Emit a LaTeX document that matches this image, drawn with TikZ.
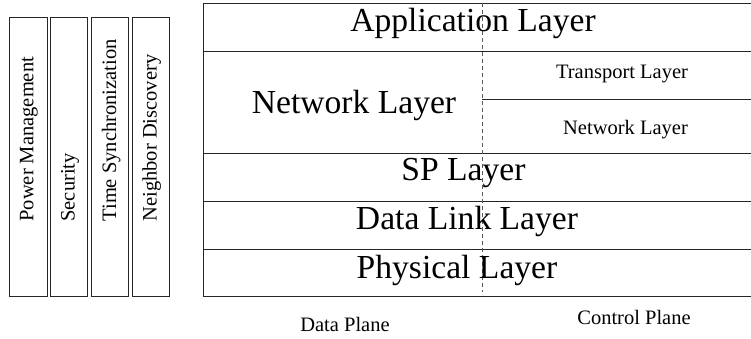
\documentclass[tikz,border=0pt]{standalone}
\usepackage{fontspec}
\setmainfont{Liberation Serif}
\begin{document}
\begin{tikzpicture}[x=1pt,y=-1pt,
  box/.style={draw=black!85,line width=1pt},
  big/.style={font=\fontsize{33.6}{36}\selectfont,inner sep=0pt,anchor=base},
  small/.style={font=\fontsize{20.5}{23}\selectfont,inner sep=0pt,anchor=base},
  side/.style={font=\fontsize{20.5}{23}\selectfont,inner sep=0pt,rotate=90,anchor=base west},
  planeline/.style={draw=black!65,line width=1pt,dash pattern=on 4pt off 3pt}]
\useasboundingbox (0,0) rectangle (751,338);
\clip (0,0) rectangle (751,338);
% side boxes
\draw[box] (9,17) rectangle (47,296);
\draw[box] (50,17) rectangle (87,296);
\draw[box] (91,17) rectangle (128,296);
\draw[box] (132,17) rectangle (169,296);
\node[side] (pm) at (33.3,221.7) {Power Management};
\node[side] (sec) at (74.5,221.7) {Security};
\node[side] (ts) at (116,221.7) {Time Synchronization};
\node[side] (nd) at (156.5,221.7) {Neighbor Discovery};
% layer stack
\draw[box] (203,3) rectangle (760,51);
\draw[box] (203,51) rectangle (760,153);
\draw[box] (203,153) rectangle (760,201);
\draw[box] (203,201) rectangle (760,249);
\draw[box] (203,249) rectangle (760,296);
\coordinate (dtop) at (482,3);
\coordinate (dbot) at (482,292);
\coordinate (split) at (482,99);
\coordinate (splitend) at (760,99);
\draw[box] (split) -- (splitend);
\draw[planeline] (dtop) -- (dbot);
\node[big] (app) at (473,31.7) {Application Layer};
\node[big] (netl) at (354,113.3) {Network Layer};
\node[small] (tr) at (622,78.3) {Transport Layer};
\node[small] (netr) at (625.5,134.3) {Network Layer};
\node[big] (sp) at (463.5,180.7) {SP Layer};
\node[big] (dl) at (467,229) {Data Link Layer};
\node[big] (ph) at (457,278) {Physical Layer};
\node[small] (dp) at (345,331) {Data Plane};
\node[small] (cp) at (634,324) {Control Plane};
\end{tikzpicture}
\end{document}
